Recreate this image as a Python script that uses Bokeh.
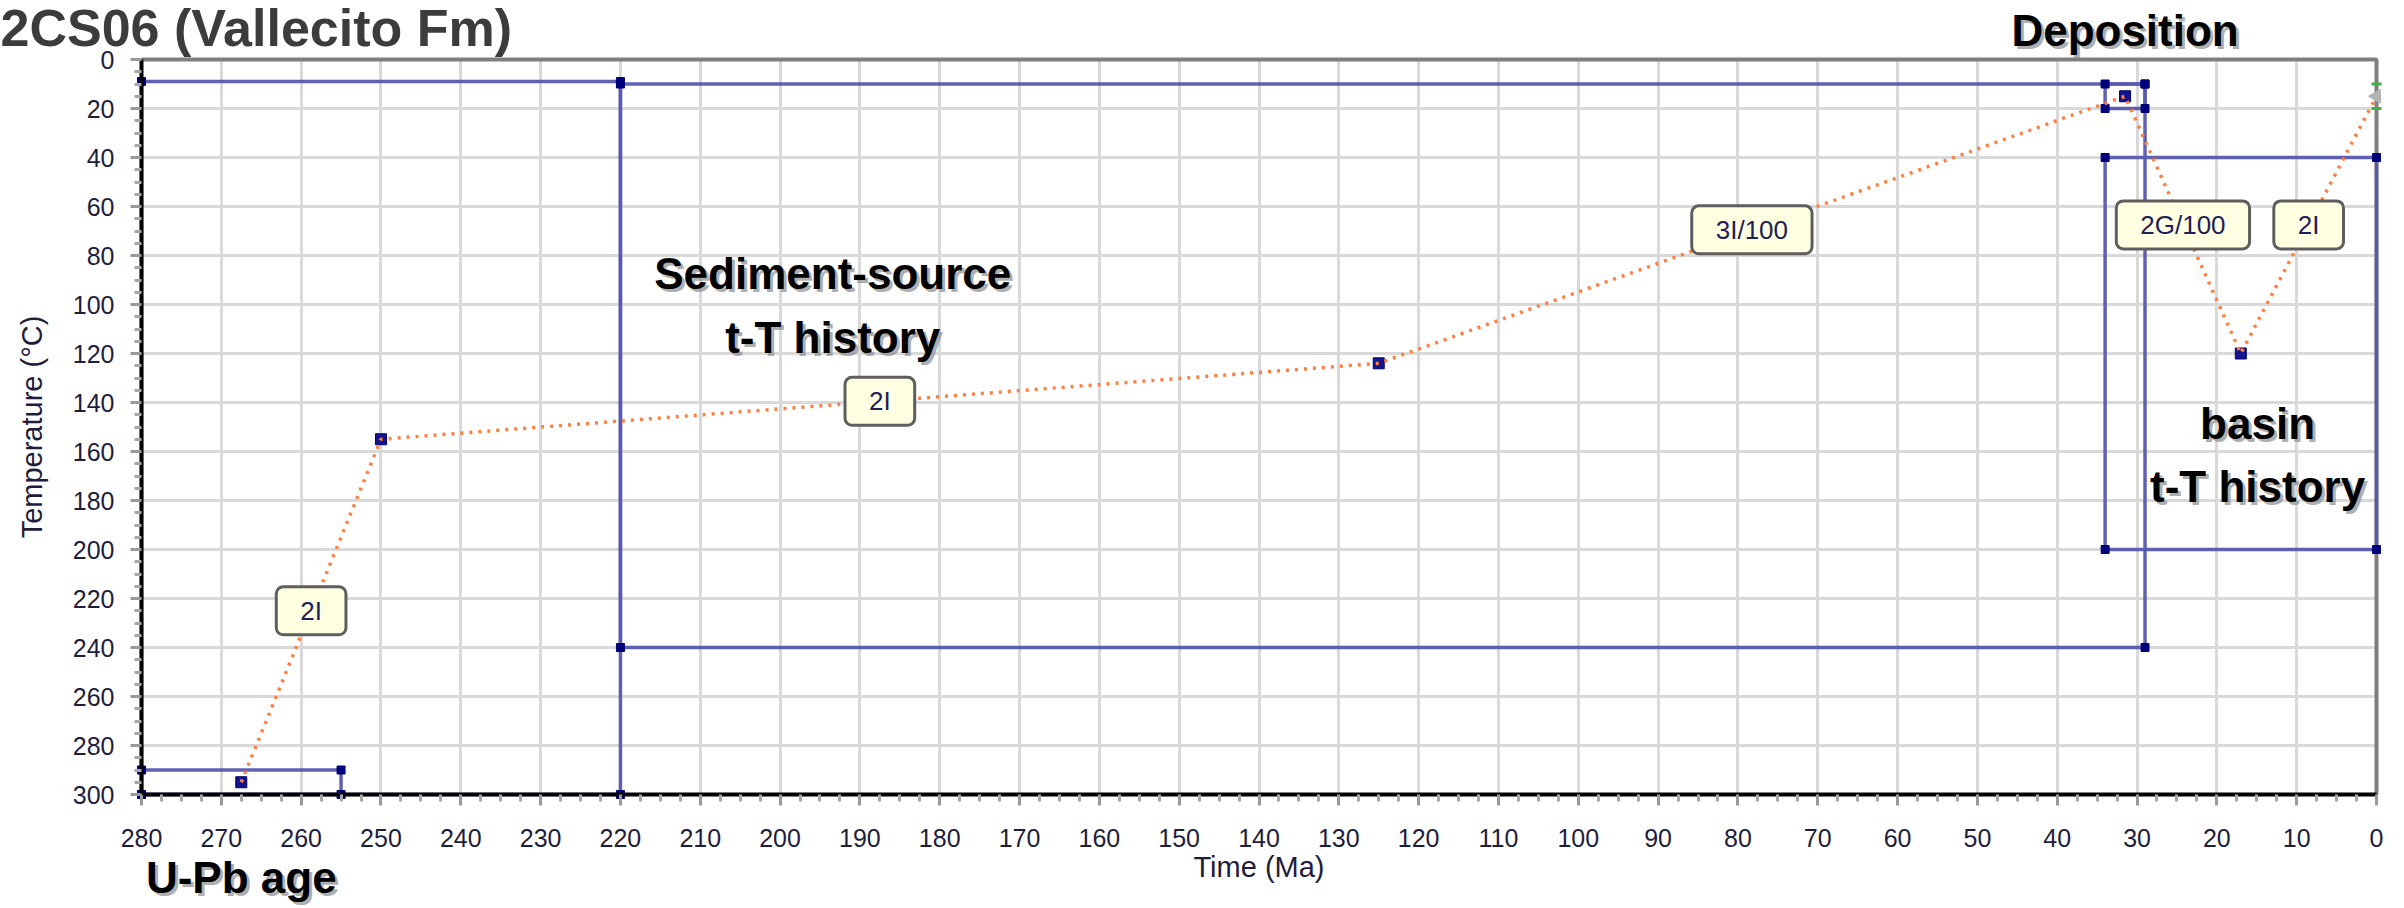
import math
from bokeh.plotting import figure
from bokeh.models import Range1d, FixedTicker, Label, Grid
from bokeh.core.properties import value
from bokeh.embed import file_html
from bokeh.resources import INLINE

# ---------------- data ----------------
# t-T path (time in Ma, temperature in deg C)
path_time = [267.5, 250, 125, 31.5, 17, 0]
path_temp = [295, 155, 124, 15, 120, 15]
segment_labels = ["2I", "2I", "3I/100", "2G/100", "2I"]

# constraint boxes: oldest/youngest time, low/high temperature
box_time_old = [280, 280, 220, 34, 34]
box_time_young = [255, 220, 29, 29, 0]
box_temp_low = [290, 9, 10, 10, 40]
box_temp_high = [300, 300, 240, 20, 200]

# present-day constraint
present_time = 0
present_temp_range = [10, 20]

time_limits = (0, 280)
temp_limits = (0, 300)
x_ticks = list(range(0, 281, 10))
y_ticks = list(range(0, 301, 20))
x_minor = [t + k * 2.5 for t in x_ticks[:-1] for k in (1, 2, 3)]
y_minor = [t + k * 5 for t in y_ticks[:-1] for k in (1, 2, 3)]

# ---------------- layout (pixels) ----------------
W, H = 2404, 908
left_px, right_px, top_px, bottom_px = 141, 28, 59, 114
xs = (W - left_px - right_px) / (time_limits[1] - time_limits[0])
ys = (H - top_px - bottom_px) / (temp_limits[1] - temp_limits[0])
x_range = Range1d(time_limits[1] + left_px / xs, time_limits[0] - right_px / xs)
y_range = Range1d(temp_limits[1] + bottom_px / ys, temp_limits[0] - top_px / ys)

p = figure(width=W, height=H, x_range=x_range, y_range=y_range,
           output_backend="svg", toolbar_location=None, title=None,
           min_border=0, min_border_left=0, min_border_right=0,
           min_border_top=0, min_border_bottom=0)
p.background_fill_color = "white"
p.border_fill_color = "white"
p.outline_line_color = None

p.xaxis.ticker = FixedTicker(ticks=x_ticks, minor_ticks=x_minor)
p.yaxis.ticker = FixedTicker(ticks=y_ticks, minor_ticks=y_minor)
p.xaxis.axis_label = "Time (Ma)"
p.yaxis.axis_label = "Temperature (°C)"
p.xaxis.fixed_location = temp_limits[1]
p.yaxis.fixed_location = time_limits[1]
p.xaxis.bounds = time_limits
p.yaxis.bounds = temp_limits

for ax in (p.xaxis[0], p.yaxis[0]):
    ax.axis_line_color = "black"
    ax.axis_line_width = 4
    ax.major_tick_line_color = "#9A9A9A"
    ax.major_tick_line_width = 3
    ax.major_tick_in = 0
    ax.major_tick_out = 11
    ax.minor_tick_line_color = "#A8A8A8"
    ax.minor_tick_line_width = 3
    ax.minor_tick_in = 0
    ax.minor_tick_out = 7
    ax.major_label_text_font = "Liberation Sans"
    ax.major_label_text_font_size = "25px"
    ax.major_label_text_color = "#1E1E3C"
    ax.axis_label_text_font = "Liberation Sans"
    ax.axis_label_text_font_size = "29px"
    ax.axis_label_text_font_style = "normal"
    ax.axis_label_text_color = "#1E1E3C"

p.yaxis.major_label_standoff = 16
p.yaxis.axis_label_standoff = 22
p.xaxis.major_label_standoff = 23
p.xaxis.axis_label_standoff = 1

if "cross_bounds" in Grid.properties():
    p.xgrid.cross_bounds = temp_limits
    p.ygrid.cross_bounds = time_limits
    p.xgrid.bounds = time_limits
    p.ygrid.bounds = temp_limits
    p.grid.grid_line_color = "#D9D9D9"
    p.grid.grid_line_width = 3
else:
    p.grid.visible = False
    p.segment(x0=x_ticks, x1=x_ticks, y0=[temp_limits[0]] * len(x_ticks),
              y1=[temp_limits[1]] * len(x_ticks), line_color="#D9D9D9", line_width=3)
    p.segment(x0=[time_limits[0]] * len(y_ticks), x1=[time_limits[1]] * len(y_ticks),
              y0=y_ticks, y1=y_ticks, line_color="#D9D9D9", line_width=3)

# top and right frame edges (gray)
p.line([time_limits[1], time_limits[0], time_limits[0]],
       [temp_limits[0], temp_limits[0], temp_limits[1]],
       line_color="#7F7F7F", line_width=4)

# ---------------- constraint boxes ----------------
p.quad(left=box_time_old, right=box_time_young, top=box_temp_low,
       bottom=box_temp_high, fill_alpha=0, line_color="#5858B0",
       line_alpha=0.95, line_width=3.5)

corner_x, corner_y = [], []
for to, ty, tl, th in zip(box_time_old, box_time_young, box_temp_low, box_temp_high):
    corner_x += [to, ty, to, ty]
    corner_y += [tl, tl, th, th]
p.scatter(corner_x, corner_y, marker="square", size=8,
          fill_color="#00007A", line_color="#00007A")

# ---------------- path ----------------
p.scatter(path_time[:-1], path_temp[:-1], marker="square", size=11,
          fill_color="#14148C", line_color="#000070")
p.line(path_time, path_temp, line_color="#FF7F40", line_width=3.5,
       line_dash="3 6")

# present-day marker
p.scatter([present_time] * 2, present_temp_range, marker="dash", size=10,
          line_color="#3CB43C", line_width=3)
p.scatter([present_time], [sum(present_temp_range) / 2], marker="triangle",
          size=14, angle=math.pi / 2, fill_color="#B4B4B4", line_color="#B4B4B4")

# segment labels at midpoints
mid_t = [(a + b) / 2 for a, b in zip(path_time[:-1], path_time[1:])]
mid_T = [(a + b) / 2 for a, b in zip(path_temp[:-1], path_temp[1:])]
p.text(x=mid_t, y=mid_T, text=segment_labels, text_align="center",
       text_baseline="middle", text_font=value("Liberation Sans"),
       text_font_size="26px", text_color="#1E1E5A",
       background_fill_color="#FFFFE1", border_line_color="#5E5E5E",
       border_line_width=3, padding=(24, 9), border_radius=7)

# ---------------- annotations ----------------
def big_label(x, y, text, size="44px", color="black", align="center", shadow=True):
    if shadow:
        p.add_layout(Label(x=x, y=y, text=text, text_font="Liberation Sans",
                           text_font_style="bold", text_font_size=size,
                           text_color="#8C8C8C", text_alpha=0.7,
                           text_align=align, text_baseline="alphabetic",
                           x_offset=3, y_offset=-3))
    p.add_layout(Label(x=x, y=y, text=text, text_font="Liberation Sans",
                       text_font_style="bold", text_font_size=size,
                       text_color=color, text_align=align,
                       text_baseline="alphabetic"))

big_label(x_range.start, -13.0, "2CS06 (Vallecito Fm)", size="52px", color="#3C3C3C",
          align="left", shadow=False)
big_label(path_time[3], -12.0, "Deposition")
big_label(193.4, 87.5, "Sediment-source")
big_label(193.4, 113.6, "t-T history")
big_label(14.9, 148.6, "basin")
big_label(14.9, 174.3, "t-T history")
big_label(path_time[0], 334.0, "U-Pb age")

open("out.html", "w").write(file_html(p, INLINE))
